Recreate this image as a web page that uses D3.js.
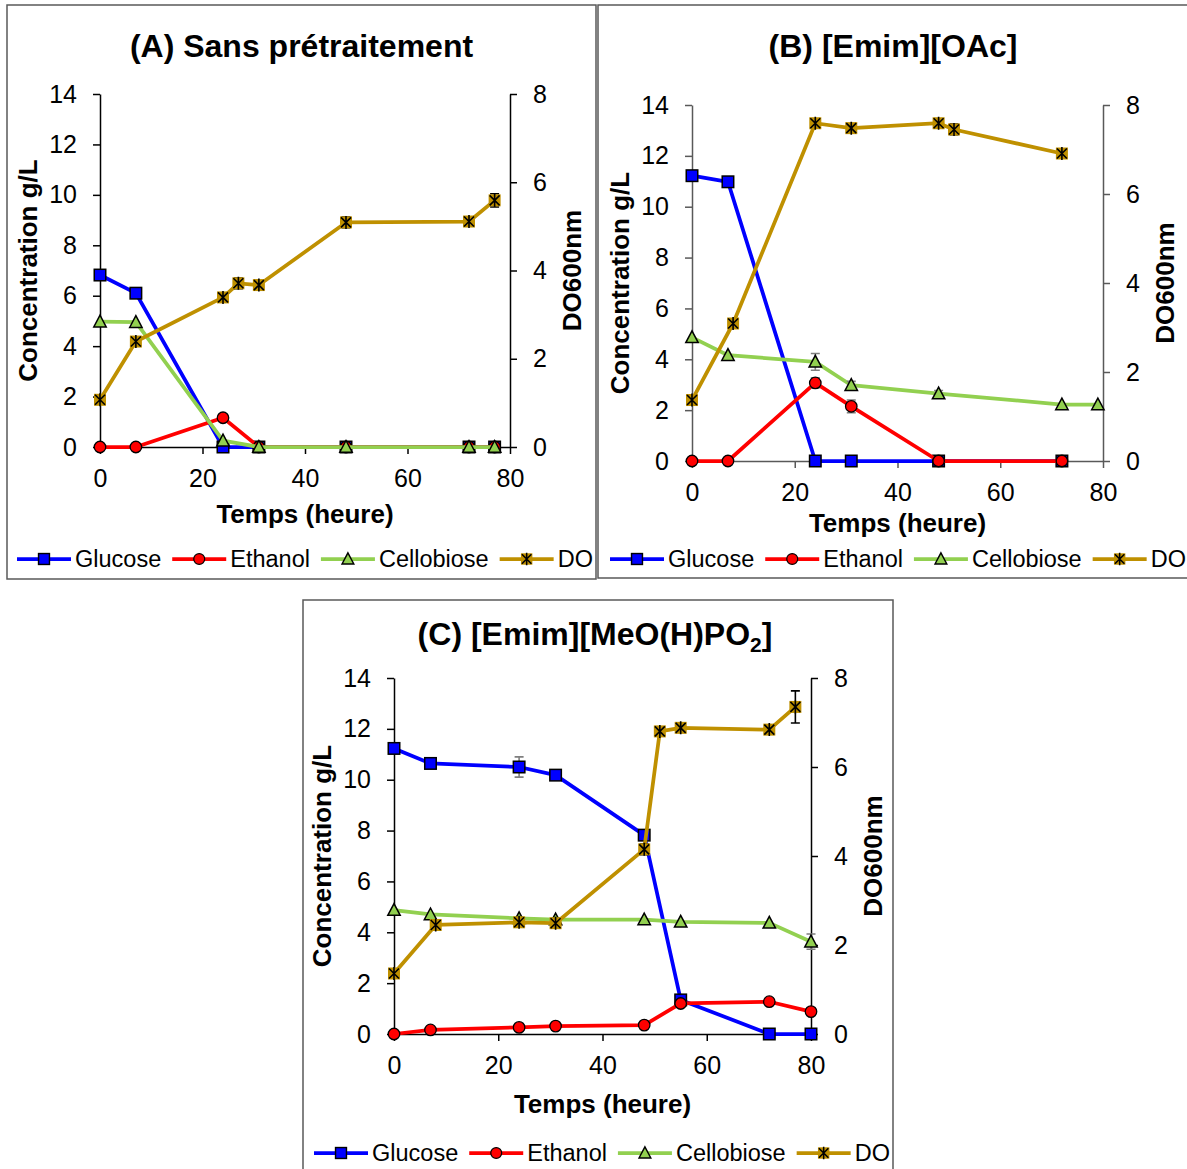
<!DOCTYPE html>
<html><head><meta charset="utf-8">
<script src="https://cdn.jsdelivr.net/npm/d3@7"></script>
<style>
html,body{margin:0;padding:0;background:#fff;}
svg{display:block;font-family:"Liberation Sans",Arial,sans-serif;}
</style></head>
<body>
<svg id="chart" width="1187" height="1169"></svg>
<script>
// ---------- DATA ----------
const seriesNames = ["Glucose","Ethanol","Cellobiose","DO"];
const xTicks = [0,20,40,60,80];
const yLeftTicks = [0,2,4,6,8,10,12,14];
const yRightTicks = [0,2,4,6,8];

// Panel A : Sans prétraitement
const timeA = [0,7,24,31,48,72,77];
const glucoseA = [6.82,6.1,0,0,0,0,0];
const ethanolA = [0,0,1.16,0,0,0,0];
const cellobioseA = [4.97,4.95,0.25,0,0,0,0];
const timeDoA = [0,7,24,27,31,48,72,77];
const doA = [1.07,2.39,3.39,3.71,3.67,5.09,5.11,5.59];
const doErrA = [0.05,0.1,0.05,0.12,0.05,0.12,0.06,0.15];

// Panel B : [Emim][OAc]
const timeB = [0,7,24,31,48,72];
const glucoseB = [11.22,10.98,0,0,0,0];
const ethanolB = [0,0,3.07,2.15,0,0];
const ethanolErrB = [0,0,0.2,0.25,0,0];
const timeCelloB = [0,7,24,31,48,72,79];
const cellobioseB = [4.86,4.16,3.9,2.98,2.65,2.22,2.22];
const cellobioseErrB = [0,0,0.33,0.15,0.12,0,0];
const timeDoB = [0,8,24,31,48,51,72];
const doB = [1.37,3.09,7.59,7.48,7.59,7.45,6.91];
const doErrB = [0.03,0.03,0.03,0.08,0.03,0.12,0.1];

// Panel C : [Emim][MeO(H)PO2]
const timeC = [0,7,24,31,48,55,72,80];
const glucoseC = [11.23,10.64,10.5,10.18,7.82,1.34,0,0];
const glucoseErrC = [0,0,0.4,0,0,0,0,0];
const ethanolC = [0,0.16,0.26,0.31,0.35,1.2,1.27,0.88];
const cellobioseC = [4.87,4.7,4.55,4.5,4.5,4.41,4.37,3.63];
const cellobioseErrC = [0,0,0,0,0,0,0,0.3];
const timeDoC = [0,8,24,31,48,51,55,72,77];
const doC = [1.36,2.45,2.51,2.49,4.15,6.8,6.88,6.84,7.35];
const doErrC = [0,0,0.05,0.05,0.12,0.05,0.03,0.05,0.36];

// ---------- STYLE / LAYOUT ----------
const colors = {Glucose:"#0000FF", Ethanol:"#FF0000", Cellobiose:"#92D050", DO:"#BF9000"};
const FONT = '"Liberation Sans",Arial,sans-serif';

const panels = [
  {title:[{t:"(A) Sans prétraitement"}], box:[7,5,596,579], plot:{l:100,r:510,t:94,b:447},
   titleX:301.5, titleY:57, axisColor:"#000", xTitleY:523, legendX:17, legendY:559,
   series:[
     {name:"Glucose", x:timeA, y:glucoseA},
     {name:"Ethanol", x:timeA, y:ethanolA},
     {name:"Cellobiose", x:timeA, y:cellobioseA},
     {name:"DO", x:timeDoA, y:doA, err:doErrA, right:true}
   ]},
  {title:[{t:"(B) [Emim][OAc]"}], box:[598,5,1192,578], plot:{l:692,r:1103,t:105,b:461},
   titleX:893, titleY:57, axisColor:"#595959", xTitleY:532, legendX:610, legendY:559,
   series:[
     {name:"Glucose", x:timeB, y:glucoseB},
     {name:"Ethanol", x:timeB, y:ethanolB, err:ethanolErrB},
     {name:"Cellobiose", x:timeCelloB, y:cellobioseB, err:cellobioseErrB},
     {name:"DO", x:timeDoB, y:doB, err:doErrB, right:true}
   ]},
  {title:[{t:"(C) [Emim][MeO(H)PO"},{t:"2",sub:true},{t:"]"}], box:[303,600,893,1175], plot:{l:394,r:811,t:678,b:1034},
   titleX:595, titleY:645, axisColor:"#000", xTitleY:1113, legendX:314, legendY:1153,
   series:[
     {name:"Glucose", x:timeC, y:glucoseC, err:glucoseErrC},
     {name:"Ethanol", x:timeC, y:ethanolC},
     {name:"Cellobiose", x:timeC, y:cellobioseC, err:cellobioseErrC},
     {name:"DO", x:timeDoC, y:doC, err:doErrC, right:true}
   ]}
];

const svg = d3.select("#chart");

function drawMarker(g, name, cx, cy, sc){
  sc = sc || 1;
  const m = g.append("g").attr("transform",`translate(${cx},${cy}) scale(${sc})`);
  if(name==="Glucose"){
    m.append("rect").attr("x",-5.75).attr("y",-5.75).attr("width",11.5).attr("height",11.5)
      .attr("fill",colors.Glucose).attr("stroke","#000").attr("stroke-width",1.5);
  } else if(name==="Ethanol"){
    m.append("circle").attr("r",5.75).attr("fill",colors.Ethanol).attr("stroke","#000").attr("stroke-width",1.3);
  } else if(name==="Cellobiose"){
    m.append("path").attr("d","M0,-6.5L6.2,5.2L-6.2,5.2Z").attr("fill",colors.Cellobiose)
      .attr("stroke","#000").attr("stroke-width",1.5);
  } else {
    m.append("rect").attr("x",-6).attr("y",-6).attr("width",12).attr("height",12)
      .attr("fill",colors.DO);
    m.append("path").attr("d","M-5,-5L5,5M-5,5L5,-5M0,-6.5L0,6.5")
      .attr("stroke","#000").attr("stroke-width",1.6).attr("fill","none");
  }
}

panels.forEach(p=>{
  const g = svg.append("g");
  const [bx0,by0,bx1,by1] = p.box;
  g.append("rect").attr("x",bx0).attr("y",by0).attr("width",bx1-bx0).attr("height",by1-by0)
    .attr("fill","none").attr("stroke","#595959").attr("stroke-width",1.5);

  const x = d3.scaleLinear().domain([0,80]).range([p.plot.l,p.plot.r]);
  const yL = d3.scaleLinear().domain([0,14]).range([p.plot.b,p.plot.t]);
  const yR = d3.scaleLinear().domain([0,8]).range([p.plot.b,p.plot.t]);

  // title
  const tt = g.append("text").attr("x",p.titleX).attr("y",p.titleY).attr("text-anchor","middle")
    .attr("font-size",32).attr("font-weight","bold").attr("fill","#000");
  p.title.forEach(s=>{
    const ts = tt.append("tspan").text(s.t);
    if(s.sub) ts.attr("font-size",21).attr("dy",7);
    else if(s.t==="]") ts.attr("dy",-7);
  });

  // axes
  const styleAxis = (sel)=>{
    sel.selectAll("path").attr("stroke",p.axisColor).attr("stroke-width",1.5);
    sel.selectAll("line").attr("stroke",p.axisColor).attr("stroke-width",1.5);
    sel.selectAll("text").attr("font-size",25).attr("font-family",FONT).attr("fill","#000");
  };
  g.append("g").attr("transform",`translate(0,${p.plot.b})`)
    .call(d3.axisBottom(x).tickValues(xTicks).tickSize(7).tickSizeOuter(0).tickPadding(15))
    .call(styleAxis);
  g.append("g").attr("transform",`translate(${p.plot.l},0)`)
    .call(d3.axisLeft(yL).tickValues(yLeftTicks).tickSize(7).tickSizeOuter(0).tickPadding(16))
    .call(styleAxis);
  g.append("g").attr("transform",`translate(${p.plot.r},0)`)
    .call(d3.axisRight(yR).tickValues(yRightTicks).tickSize(7).tickSizeOuter(0).tickPadding(16))
    .call(styleAxis);

  // axis titles
  const midY = (p.plot.t+p.plot.b)/2;
  g.append("text").attr("transform",`translate(${p.plot.l-72},${midY}) rotate(-90)`)
    .attr("text-anchor","middle").attr("dominant-baseline","central")
    .attr("font-size",26).attr("font-weight","bold").text("Concentration g/L");
  g.append("text").attr("transform",`translate(${p.plot.r+62},${midY}) rotate(-90)`)
    .attr("text-anchor","middle").attr("dominant-baseline","central")
    .attr("font-size",26).attr("font-weight","bold").text("DO600nm");
  g.append("text").attr("x",(p.plot.l+p.plot.r)/2).attr("y",p.xTitleY).attr("text-anchor","middle")
    .attr("font-size",26).attr("font-weight","bold").text("Temps (heure)");

  // series
  p.series.forEach(s=>{
    const ys = s.right ? yR : yL;
    const pts = s.x.map((t,i)=>({t, v:s.y[i], e: s.err ? s.err[i] : 0}));
    const line = d3.line().x(d=>x(d.t)).y(d=>ys(d.v));
    g.append("path").datum(pts).attr("d",line).attr("fill","none")
      .attr("stroke",colors[s.name]).attr("stroke-width",3.75).attr("stroke-linejoin","round");
    const ec = s.name==="DO" ? "#000" : "#7f7f7f";
    pts.filter(d=>d.e>0).forEach(d=>{
      const cx = x(d.t), y0 = ys(d.v-d.e), y1 = ys(d.v+d.e);
      g.append("path").attr("d",`M${cx},${y0}V${y1}M${cx-4.5},${y0}H${cx+4.5}M${cx-4.5},${y1}H${cx+4.5}`)
        .attr("stroke",ec).attr("stroke-width",1.6).attr("fill","none");
    });
    pts.forEach(d=>drawMarker(g, s.name, x(d.t), ys(d.v)));
  });

  // legend
  let lx = p.legendX;
  seriesNames.forEach(n=>{
    g.append("line").attr("x1",lx).attr("x2",lx+54).attr("y1",p.legendY).attr("y2",p.legendY)
      .attr("stroke",colors[n]).attr("stroke-width",3.75);
    drawMarker(g, n, lx+27, p.legendY, 0.95);
    const t = g.append("text").attr("x",lx+58).attr("y",p.legendY).attr("dominant-baseline","central")
      .attr("font-size",23.5).text(n);
    lx = lx + 58 + t.node().getComputedTextLength() + 11;
  });
});
</script>
</body></html>
